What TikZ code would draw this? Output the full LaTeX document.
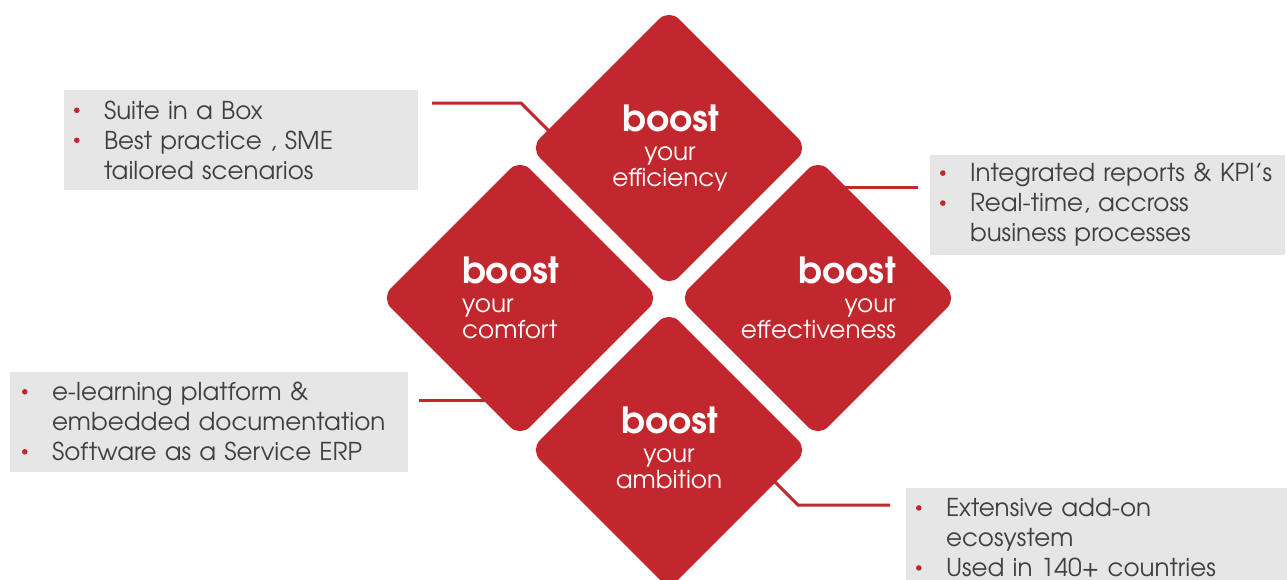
\documentclass[tikz,border=0pt]{standalone}
\usepackage{fontspec}
\setmainfont{TeX Gyre Adventor}
\usetikzlibrary{shapes.geometric}
\definecolor{bred}{HTML}{C2272D}
\definecolor{bgray}{HTML}{E6E6E6}
\definecolor{tgray}{HTML}{404040}
\newcommand\bul{\makebox[32pt][l]{\hspace{2pt}\raisebox{6pt}{\tikz[x=1pt,y=1pt]\fill[bred] (0,0) circle (2.8);}}}
\newcommand\ind{\hspace*{32pt}}
\begin{document}
\begin{tikzpicture}[x=1pt,y=-1pt,
  dia/.style={diamond, fill=bred, minimum width=278pt, minimum height=278pt, inner sep=0pt, rounded corners=14pt},
  box/.style={fill=bgray, inner xsep=8pt, inner ysep=0pt, align=left, text=tgray, font=\fontsize{24.6}{30}\selectfont},
  conn/.style={draw=bred, line width=3pt},
  bt/.style={text=white, inner sep=0pt, font=\bfseries\fontsize{36}{36}\selectfont},
  yt/.style={text=white, inner sep=0pt, font=\fontsize{24.7}{27}\selectfont}]
\useasboundingbox (0,0) rectangle (1287,579);
\fill[white] (0,0) rectangle (1287,579);
% diamonds
\node[dia] (top) at (669,148) {};
\node[dia] (left) at (520,298) {};
\node[dia] (right) at (818,298) {};
\node[dia] (bot) at (669,450) {};
% diamond texts
\node[bt, anchor=base] (t1) at (671,131) {boost};
\node[yt, anchor=base] (t2) at (670,160) {your};
\node[yt, anchor=base] (t3) at (670,186) {efficiency};
\node[bt, anchor=base west] (l1) at (462,283) {boost};
\node[yt, anchor=base west] (l2) at (462,312) {your};
\node[yt, anchor=base west] (l3) at (462,338) {comfort};
\node[bt, anchor=base east] (r1) at (896,283) {boost};
\node[yt, anchor=base east] (r2) at (896,312) {your};
\node[yt, anchor=base east] (r3) at (896,338) {effectiveness};
\node[bt, anchor=base] (m1) at (670,433) {boost};
\node[yt, anchor=base] (m2) at (669,462) {your};
\node[yt, anchor=base] (m3) at (669,488) {ambition};
% boxes
\node[box, minimum width=354pt, minimum height=100pt, text width=338pt] (b1) at (241,140)
  {\bul Suite in a Box\\\bul Best practice , SME\\\ind tailored scenarios};
\node[box, minimum width=355pt, minimum height=100pt, text width=339pt] (b2) at (1107.5,205)
  {\bul Integrated reports \& KPI’s\\\bul Real-time, accross\\\ind business processes};
\node[box, minimum width=398pt, minimum height=100pt, text width=378pt, inner xsep=10pt] (b3) at (209,421.5)
  {\bul e-learning platform \&\\\ind embedded documentation\\\bul Software as a Service ERP};
\node[box, minimum width=382pt, minimum height=100pt, text width=366pt, inner xsep=8pt] (b4) at (1097,538)
  {\bul Extensive add-on\\\ind ecosystem\\\bul Used in 140+ countries};
% connectors
\coordinate (c1a) at (432,103);
\coordinate (c1b) at (521,103);
\coordinate (c1c) at (551,133);
\draw[conn] (c1a) -- (c1b) -- (c1c);
\coordinate (c2a) at (918,187);
\coordinate (c2b) at (842,187);
\draw[conn] (c2a) -- (c2b);
\coordinate (c3a) at (419,400);
\coordinate (c3b) at (488,400);
\draw[conn] (c3a) -- (c3b);
\coordinate (c4a) at (890,505);
\coordinate (c4b) at (798,505);
\coordinate (c4c) at (773,480);
\draw[conn] (c4a) -- (c4b) -- (c4c);
\end{tikzpicture}
\end{document}
